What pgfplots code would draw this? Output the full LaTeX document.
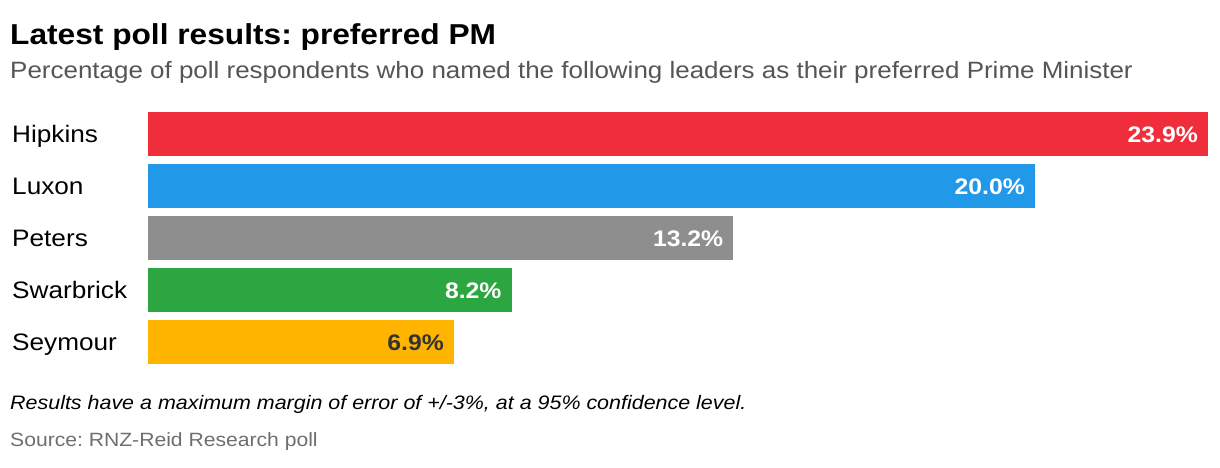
\documentclass[border=0pt]{standalone}
\usepackage{pgfplots}
\pgfplotsset{compat=1.18}
\usepackage{fontspec}
\setmainfont{Liberation Sans}[FakeStretch=1.1]
\definecolor{cred}{HTML}{EF2D3B}
\definecolor{cblue}{HTML}{2299E8}
\definecolor{cgray}{HTML}{8E8E8E}
\definecolor{cgreen}{HTML}{2CA640}
\definecolor{cyellow}{HTML}{FFB400}
\definecolor{subgray}{HTML}{555555}
\definecolor{srcgray}{HTML}{6E6E6E}
\definecolor{dark}{HTML}{333333}
\frenchspacing
\begin{document}
\begin{tikzpicture}[x=1pt,y=1pt]
\useasboundingbox (0,0) rectangle (1220,468);
\node[anchor=base west,inner sep=0,font=\fontsize{28.8}{32}\selectfont\bfseries] at (10,423.5) {Latest poll results: preferred PM};
\node[anchor=base west,inner sep=0,font=\fontsize{23.6}{27}\selectfont,text=subgray] at (10,389) {Percentage of poll respondents who named the following leaders as their preferred Prime Minister};
\begin{axis}[
  at={(148pt,104pt)}, anchor=south west,
  width=1060pt, height=252pt, scale only axis,
  xmin=0, xmax=23.9,
  ymin=-0.4231, ymax=4.4231,
  axis line style={draw=none},
  hide x axis,
  ytick={0,1,2,3,4},
  yticklabels={Seymour,Swarbrick,Peters,Luxon,Hipkins},
  major tick length=0pt,
  yticklabel style={anchor=base west, xshift=-136pt, yshift=-9pt, font=\fontsize{23.8}{27}\selectfont, inner sep=0pt},
  xbar, bar width=0.846, bar shift=0pt,
  /pgf/number format/assume math mode=true,
  nodes near coords={\pgfmathprintnumber[fixed,precision=1,fixed zerofill,assume math mode=true]{\pgfplotspointmeta}\%},
  every node near coord/.append style={anchor=base east, xshift=-10pt, yshift=-9pt, font=\fontsize{22.5}{26}\selectfont\bfseries, text=white, inner sep=0pt},
  point meta=explicit,
]
\addplot[fill=cred, draw=none] coordinates {(23.9,4) [23.9]};
\addplot[fill=cblue, draw=none] coordinates {(20.0,3) [20.0]};
\addplot[fill=cgray, draw=none] coordinates {(13.2,2) [13.2]};
\addplot[fill=cgreen, draw=none] coordinates {(8.2,1) [8.2]};
\addplot[fill=cyellow, draw=none, every node near coord/.append style={text=dark}] coordinates {(6.9,0) [6.9]};
\end{axis}
\node[anchor=base west,inner sep=0,font=\fontsize{19.5}{22}\selectfont\itshape] at (10,58.5) {Results have a maximum margin of error of +/-3\%, at a 95\% confidence level.};
\node[anchor=base west,inner sep=0,font=\fontsize{19.2}{22}\selectfont,text=srcgray] at (10,21) {Source: RNZ-Reid Research poll};
\end{tikzpicture}
\end{document}
